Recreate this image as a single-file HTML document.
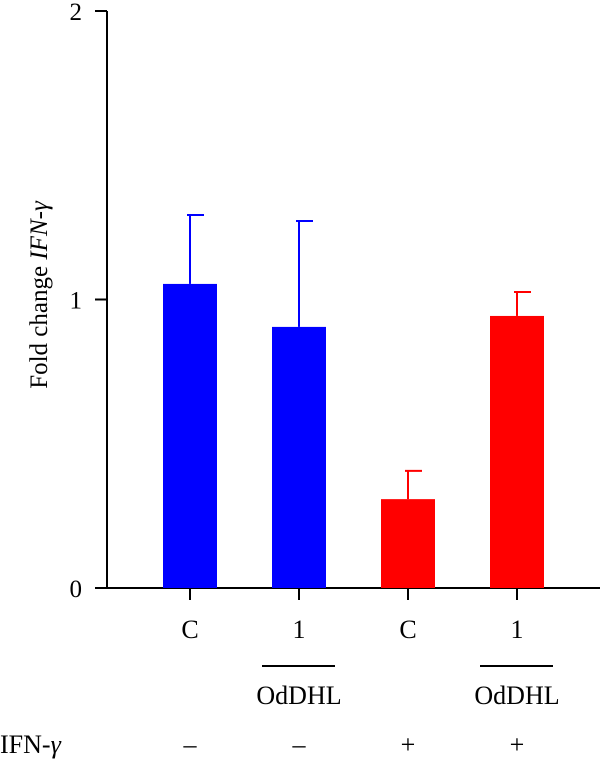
<!DOCTYPE html>
<html><head><meta charset="utf-8"><style>
html,body{margin:0;padding:0;background:#fff;width:600px;height:761px;overflow:hidden}
svg text{font-family:"Liberation Serif",serif;fill:#000}
</style></head><body>
<svg width="600" height="761" viewBox="0 0 600 761" id="chart">
<g id="axes"></g><g id="bars"></g><g id="labels"></g>
</svg>
<script>
const categories = ["C", "1", "C", "1"];
const treatments = ["", "OdDHL", "", "OdDHL"];
const ifnSigns = ["\u2013", "\u2013", "+", "+"];
const means = [1.054, 0.905, 0.308, 0.943];
const errors = [0.239, 0.367, 0.098, 0.083];
const colors = ["#0000ff", "#0000ff", "#ff0000", "#ff0000"];
const yTicks = [0, 1, 2];

const NS = "http://www.w3.org/2000/svg";
const y0 = 588, yTop = 11, yMax = 2;
const yScale = v => y0 - (y0 - yTop) * v / yMax;
const xStart = 190, xStep = 109;
const xScale = i => xStart + i * xStep;
const barW = 54;

function mk(parent, tag, attrs, text) {
  const e = document.createElementNS(NS, tag);
  for (const k in attrs) e.setAttribute(k, attrs[k]);
  if (text !== undefined) e.textContent = text;
  document.getElementById(parent).appendChild(e);
  return e;
}

// axes
let a = mk("axes", "line", {x1:107, y1:yTop, x2:107, y2:y0+1, stroke:"#000", "stroke-width":2});


a = mk("axes", "line", {x1:95, y1:y0, x2:600, y2:y0, stroke:"#000", "stroke-width":2});


yTicks.forEach(t => {
  const y = yScale(t);
  const tk = mk("axes", "line", {x1:95, y1:y, x2:107, y2:y, stroke:"#000", "stroke-width":2});
  
  
  const tl = mk("axes", "text", {x:82, y:y+9, "text-anchor":"end", "font-size":25}, String(t));
  
  
});
const yt = mk("axes", "text", {x:0, y:0, "font-size":25, "text-anchor":"middle", transform:"translate(47,295) rotate(-90)"});


yt.innerHTML = 'Fold change <tspan font-style="italic">IFN-\u03b3</tspan>';

// bars
means.forEach((m, i) => {
  const cx = xScale(i);
  const top = yScale(m);
  const r = mk("bars", "rect", {x:cx-barW/2, y:top, width:barW, height:y0-top, fill:colors[i]});
  
  
  const et = yScale(m + errors[i]);
  const el = mk("bars", "line", {x1:cx, y1:top, x2:cx, y2:et, stroke:colors[i], "stroke-width":2});
  
  
  const ec = mk("bars", "line", {x1:cx-3, y1:et, x2:cx+14, y2:et, stroke:colors[i], "stroke-width":2});
  
  
  const xt = mk("axes", "line", {x1:cx, y1:y0, x2:cx, y2:600, stroke:"#000", "stroke-width":2});
  
  
  const cl = mk("labels", "text", {x:cx, y:638, "text-anchor":"middle", "font-size":26}, categories[i]);
  
  
  if (treatments[i]) {
    const ol = mk("labels", "line", {x1:cx-37, y1:666, x2:cx+36, y2:666, stroke:"#000", "stroke-width":2});
    
    
    const tl = mk("labels", "text", {x:cx, y:704, "text-anchor":"middle", "font-size":26}, treatments[i]);
    
    
  }
  const sg = mk("labels", "text", {x:cx, y:753, "text-anchor":"middle", "font-size":26}, ifnSigns[i]);
  
  
});
const il = mk("labels", "text", {x:0, y:753, "font-size":26});


il.innerHTML = 'IFN-<tspan font-style="italic">\u03b3</tspan>';
</script>
</body></html>
